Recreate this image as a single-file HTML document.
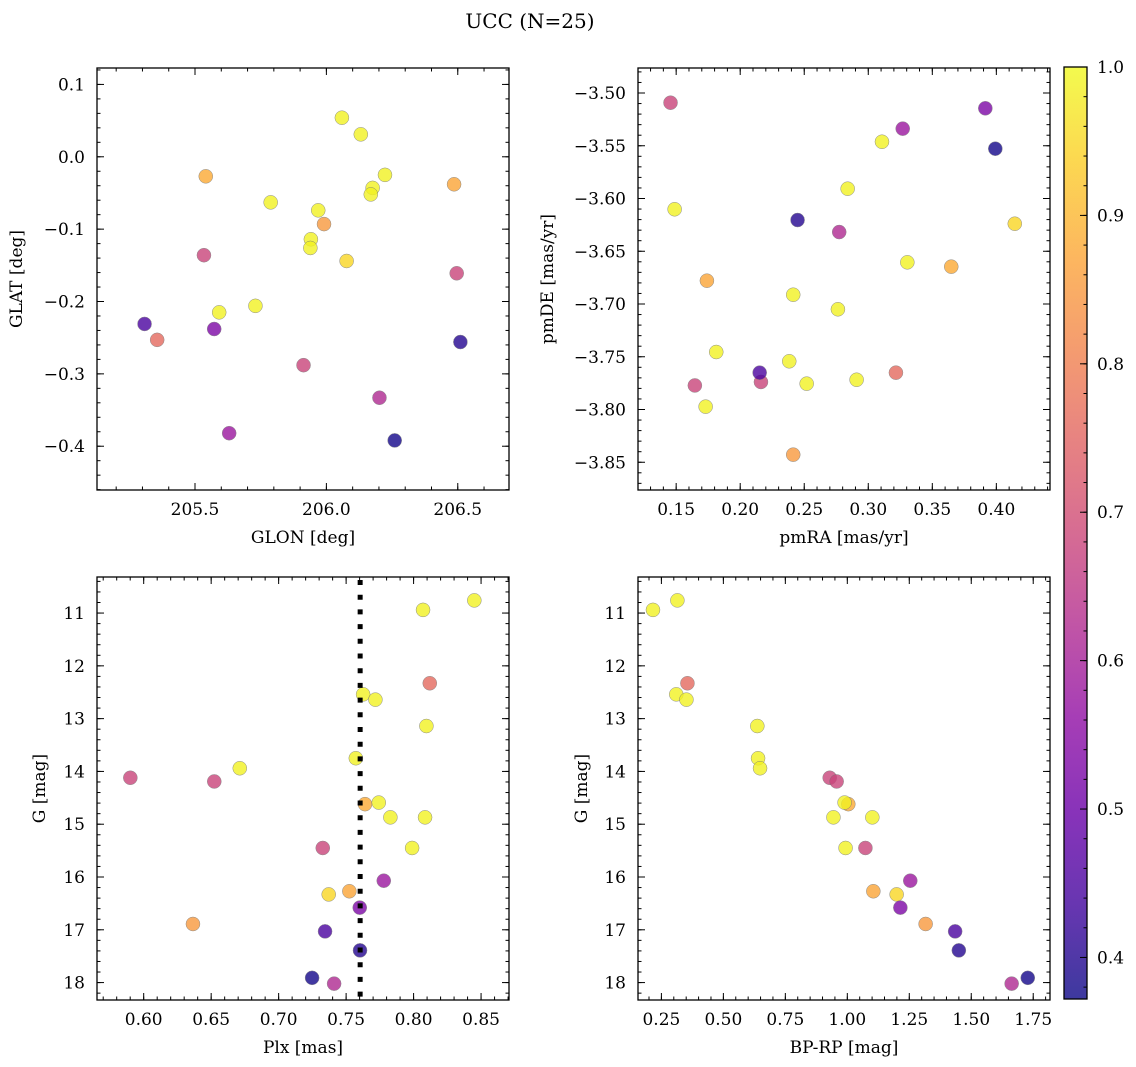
<!DOCTYPE html>
<html><head><meta charset="utf-8">
<style>
html,body{margin:0;padding:0;background:#fff;}
svg{display:block;font-family:"DejaVu Serif","Liberation Serif",serif;}
</style></head>
<body>
<svg id="fig" width="1136" height="1067" viewBox="0 0 1136 1067" xmlns="http://www.w3.org/2000/svg">
<text x="530" y="28" font-size="20" text-anchor="middle">UCC (N=25)</text>
</svg>
<script>
// star data (25 members)
const glon = [206.059,206.131,205.356,206.223,206.176,206.169,205.788,205.969,205.534,206.496,205.541,205.941,205.939,205.730,205.913,205.592,205.630,206.486,206.077,205.573,205.991,205.308,206.510,206.260,206.202];
const glat = [0.054,0.031,-0.253,-0.025,-0.043,-0.052,-0.063,-0.074,-0.136,-0.161,-0.027,-0.114,-0.126,-0.206,-0.288,-0.215,-0.382,-0.038,-0.144,-0.238,-0.093,-0.231,-0.256,-0.392,-0.333];
const pmra = [0.3107,0.2839,0.3216,0.1488,0.3305,0.2414,0.2763,0.1813,0.1456,0.2162,0.3648,0.2383,0.2519,0.2909,0.1646,0.1730,0.3269,0.1740,0.4144,0.3914,0.2414,0.2152,0.2448,0.3992,0.2773];
const pmde = [-3.5462,-3.5907,-3.7651,-3.6102,-3.6605,-3.6912,-3.7050,-3.7455,-3.5092,-3.7739,-3.6646,-3.7543,-3.7755,-3.7718,-3.7772,-3.7973,-3.5338,-3.6779,-3.6239,-3.5145,-3.8428,-3.7651,-3.6204,-3.5528,-3.6318];
const plx = [0.845,0.807,0.812,0.7626,0.7717,0.8095,0.7572,0.6712,0.5901,0.6523,0.764,0.7742,0.7828,0.8085,0.7327,0.7989,0.7779,0.7524,0.7371,0.7601,0.6365,0.7344,0.7603,0.7248,0.7411];
const gmag = [10.76,10.94,12.33,12.54,12.64,13.14,13.75,13.94,14.12,14.19,14.62,14.59,14.87,14.87,15.45,15.45,16.07,16.27,16.33,16.58,16.89,17.03,17.39,17.91,18.02];
const bprp = [0.3145,0.216,0.355,0.310,0.351,0.637,0.640,0.648,0.929,0.957,1.004,0.989,0.944,1.101,1.073,0.993,1.254,1.105,1.199,1.214,1.316,1.435,1.450,1.728,1.663];
const prob = [0.99,0.99,0.76,0.99,0.99,0.99,0.99,0.99,0.68,0.68,0.88,0.99,0.99,0.99,0.68,0.99,0.58,0.87,0.95,0.53,0.85,0.45,0.40,0.38,0.62];
const plxMedian = 0.7604;
const probMin = 0.372, probMax = 1.0;
const cbTicks = [0.4,0.5,0.6,0.7,0.8,0.9,1.0];

const NS="http://www.w3.org/2000/svg";
const svg=document.getElementById('fig');
const FS=17;
function mk(tag,attrs,parent){const e=document.createElementNS(NS,tag);for(const k in attrs)e.setAttribute(k,attrs[k]);(parent||svg).appendChild(e);return e;}
const plasma=[[13,8,135],[65,4,157],[106,0,168],[143,13,164],[177,42,144],[204,71,120],[225,100,98],[242,132,75],[252,166,54],[252,206,37],[240,249,33]];
function cmap(t){t=Math.max(0,Math.min(1,t));const f=t*10,i=Math.min(9,Math.floor(f)),u=f-i;const a=plasma[i],b=plasma[i+1];
return `rgb(${Math.round(a[0]+(b[0]-a[0])*u)},${Math.round(a[1]+(b[1]-a[1])*u)},${Math.round(a[2]+(b[2]-a[2])*u)})`;}
function fmt(v,d){const s=Math.abs(v).toFixed(d);return (v<-1e-9?'\u2212':'')+s;}

const panels=[
 {name:'glon-glat',x0:97,x1:509,y0:68,y1:490,xmin:205.127,xmax:206.695,ymin:-0.4605,ymax:0.1227,xs:glon,ys:glat,
  xmaj:[205.5,206.0,206.5],xd:1,xminor:0.1,ymaj:[-0.4,-0.3,-0.2,-0.1,0.0,0.1],yd:1,yminor:0.02,xl:'GLON [deg]',yl:'GLAT [deg]',ylx:17,inv:false},
 {name:'pmra-pmde',x0:638,x1:1050,y0:68,y1:490,xmin:0.1202,xmax:0.4419,ymin:-3.8763,ymax:-3.4763,xs:pmra,ys:pmde,
  xmaj:[0.15,0.20,0.25,0.30,0.35,0.40],xd:2,xminor:0.01,ymaj:[-3.85,-3.80,-3.75,-3.70,-3.65,-3.60,-3.55,-3.50],yd:2,yminor:0.01,xl:'pmRA [mas/yr]',yl:'pmDE [mas/yr]',ylx:548,inv:false},
 {name:'plx-g',x0:97,x1:509,y0:577,y1:1000,xmin:0.5654,xmax:0.8707,ymin:10.317,ymax:18.33,xs:plx,ys:gmag,
  xmaj:[0.60,0.65,0.70,0.75,0.80,0.85],xd:2,xminor:0.01,ymaj:[11,12,13,14,15,16,17,18],yd:0,yminor:0.2,xl:'Plx [mas]',yl:'G [mag]',ylx:40,inv:true},
 {name:'bprp-g',x0:638,x1:1050,y0:577,y1:1000,xmin:0.1556,xmax:1.8177,ymin:10.317,ymax:18.33,xs:bprp,ys:gmag,
  xmaj:[0.25,0.50,0.75,1.00,1.25,1.50,1.75],xd:2,xminor:0.05,ymaj:[11,12,13,14,15,16,17,18],yd:0,yminor:0.2,xl:'BP-RP [mag]',yl:'G [mag]',ylx:582,inv:true}
];

panels.forEach(p=>{
 const g=mk('g',{});
 
 
 const sx=v=>p.x0+(v-p.xmin)/(p.xmax-p.xmin)*(p.x1-p.x0);
 const sy=v=>p.inv? p.y0+(v-p.ymin)/(p.ymax-p.ymin)*(p.y1-p.y0) : p.y1-(v-p.ymin)/(p.ymax-p.ymin)*(p.y1-p.y0);
 const clipId='clip-'+p.name;
 const cp=mk('clipPath',{id:clipId},g);mk('rect',{x:p.x0,y:p.y0,width:p.x1-p.x0,height:p.y1-p.y0},cp);
 const pts=mk('g',{'clip-path':`url(#${clipId})`},g);
 for(let i=0;i<p.xs.length;i++){
  const c=mk('circle',{cx:sx(p.xs[i]).toFixed(2),cy:sy(p.ys[i]).toFixed(2),r:7,fill:cmap((prob[i]-probMin)/(probMax-probMin)),stroke:'#6e6e6e','stroke-width':0.5,opacity:0.8},pts);
  
  
 }
 if(p.name==='plx-g'){
  const ln=mk('line',{x1:sx(plxMedian),x2:sx(plxMedian),y1:p.y0,y2:p.y1,stroke:'#000','stroke-width':5,'stroke-dasharray':'5 9.7','stroke-dashoffset':-3},g);
  
  
 }
 const fr=mk('rect',{x:p.x0,y:p.y0,width:p.x1-p.x0,height:p.y1-p.y0,fill:'none',stroke:'#000','stroke-width':1.3},g);
 
 
 const tk=mk('g',{stroke:'#000','stroke-width':1},g);
 for(let v=Math.ceil(p.xmin/p.xminor)*p.xminor;v<=p.xmax;v+=p.xminor){const x=sx(v);
  mk('line',{x1:x,x2:x,y1:p.y1,y2:p.y1-3.5},tk);mk('line',{x1:x,x2:x,y1:p.y0,y2:p.y0+3.5},tk);}
 for(let v=Math.ceil(p.ymin/p.yminor)*p.yminor;v<=p.ymax;v+=p.yminor){const y=sy(v);
  mk('line',{x1:p.x0,x2:p.x0+3.5,y1:y,y2:y},tk);mk('line',{x1:p.x1,x2:p.x1-3.5,y1:y,y2:y},tk);}
 p.xmaj.forEach(v=>{const x=sx(v);
  mk('line',{x1:x,x2:x,y1:p.y1,y2:p.y1-7},tk);mk('line',{x1:x,x2:x,y1:p.y0,y2:p.y0+7},tk);
  const t=mk('text',{x:x,y:p.y1+25,'font-size':FS,'text-anchor':'middle'},g);t.textContent=fmt(v,p.xd);
  
  });
 p.ymaj.forEach(v=>{const y=sy(v);
  mk('line',{x1:p.x0,x2:p.x0+7,y1:y,y2:y},tk);mk('line',{x1:p.x1,x2:p.x1-7,y1:y,y2:y},tk);
  const t=mk('text',{x:p.x0-12,y:y+6,'font-size':FS,'text-anchor':'end'},g);t.textContent=fmt(v,p.yd);
  
  });
 const xl=mk('text',{x:(p.x0+p.x1)/2,y:p.y1+53,'font-size':FS,'text-anchor':'middle'},g);xl.textContent=p.xl;
 
 
 const cy=(p.y0+p.y1)/2;
 const yl=mk('text',{x:p.ylx,y:cy,'font-size':FS,'text-anchor':'middle',transform:`rotate(-90 ${p.ylx} ${cy})`,'dominant-baseline':'central'},g);yl.textContent=p.yl;
 
 
});

// colorbar
(function(){
 const cx0=1064,cx1=1087,cy0=67,cy1=999;
 const g=mk('g',{});
 
 
 const defs=mk('defs',{},g);
 const lg=mk('linearGradient',{id:'cbgrad',x1:0,y1:1,x2:0,y2:0},defs);
 for(let i=0;i<=20;i++){mk('stop',{offset:(i/20),'stop-color':cmap(i/20)},lg);}
 mk('rect',{x:cx0,y:cy0,width:cx1-cx0,height:cy1-cy0,fill:'url(#cbgrad)',opacity:0.8},g);
 mk('rect',{x:cx0,y:cy0,width:cx1-cx0,height:cy1-cy0,fill:'none',stroke:'#000','stroke-width':1.3},g);
 const sy=v=>cy1-(v-probMin)/(probMax-probMin)*(cy1-cy0);
 for(let v=0.38;v<=1.0001;v+=0.02){const y=sy(v);mk('line',{x1:cx1,x2:cx1-3.5,y1:y,y2:y,stroke:'#000','stroke-width':1},g);}
 cbTicks.forEach(v=>{const y=sy(v);mk('line',{x1:cx1,x2:cx1-7,y1:y,y2:y,stroke:'#000','stroke-width':1},g);
  const t=mk('text',{x:cx1+10,y:y+6,'font-size':FS},g);t.textContent=v.toFixed(1);
  
  });
})();
</script>
</body></html>
